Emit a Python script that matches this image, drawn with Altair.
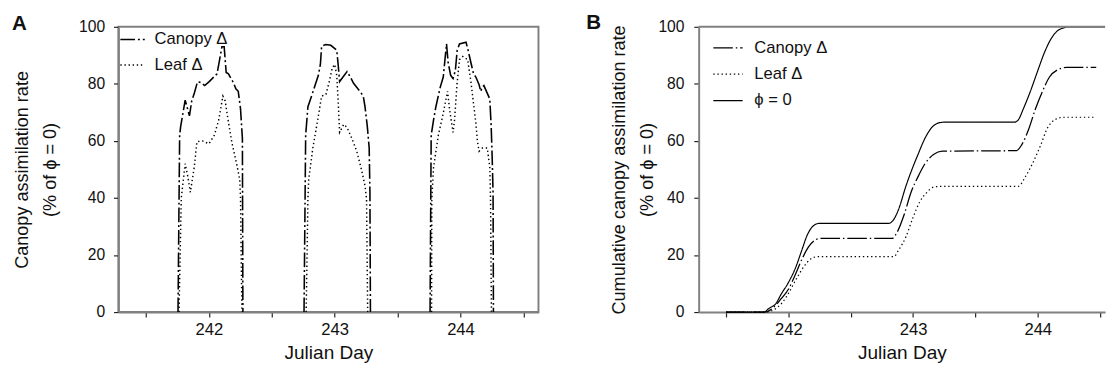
import altair as alt
import pandas as pd

FONT = "Liberation Sans"

# ---------------- Panel A data (rate, % of phi = 0) ----------------
can242_x = [241.754, 241.767, 241.775, 241.811, 241.845, 241.863, 241.884, 241.909, 241.935, 241.966, 242.0, 242.064, 242.085, 242.103, 242.121, 242.137, 242.155, 242.194, 242.214, 242.233, 242.251, 242.266, 242.27]
can242_y = [0, 62, 65, 74.3, 68.8, 74, 76.8, 80.7, 80.5, 79.4, 80.7, 83.5, 88.5, 93, 93, 84, 83.5, 80.5, 78.3, 77.4, 71.3, 60.8, 0]
can243_x = [242.756, 242.769, 242.787, 242.808, 242.870, 242.886, 242.896, 242.930, 242.969, 243.016, 243.026, 243.039, 243.098, 243.124, 243.150, 243.189, 243.227, 243.241, 243.259, 243.274, 243.280, 243.284]
can243_y = [0, 62, 72, 74.7, 83, 86.8, 93.2, 93.8, 93.5, 91.8, 87.4, 80.8, 84.3, 82.4, 80.2, 78, 75.8, 71.9, 65.2, 57.5, 42, 0]
can244_x = [243.758, 243.767, 243.786, 243.804, 243.837, 243.863, 243.889, 243.902, 243.922, 243.941, 243.959, 243.974, 243.992, 244.044, 244.057, 244.083, 244.104, 244.122, 244.148, 244.161, 244.174, 244.186, 244.233, 244.244, 244.252, 244.259, 244.262]
can244_y = [0, 62, 67.4, 71.9, 78.5, 82.4, 94, 87.4, 83, 81.9, 84.6, 91.8, 94, 94.6, 92.4, 87.4, 83.5, 82.4, 79.7, 77.4, 79, 79.4, 74.7, 65.2, 54.2, 42, 0]

leaf242_x = [241.762, 241.780, 241.811, 241.832, 241.852, 241.884, 241.904, 241.948, 242.0, 242.043, 242.078, 242.111, 242.129, 242.148, 242.181, 242.220, 242.245, 242.251, 242.262]
leaf242_y = [0, 40, 52, 47.5, 42, 51, 59.7, 60, 59, 62, 67.4, 75.7, 74, 68.5, 59.7, 52, 46.4, 40, 0]
leaf243_x = [242.773, 242.787, 242.793, 242.826, 242.865, 242.896, 242.930, 242.956, 242.981, 243.0, 243.016, 243.026, 243.039, 243.072, 243.098, 243.137, 243.175, 243.214, 243.241, 243.253, 243.262]
leaf243_y = [0, 39.8, 46.4, 57.5, 67.4, 75.7, 76.3, 80.7, 85.7, 86.8, 83, 75.2, 63, 65.8, 64.7, 60.8, 56.4, 49.7, 44.2, 39.8, 0]
leaf244_x = [243.770, 243.772, 243.786, 243.824, 243.863, 243.897, 243.914, 243.941, 243.953, 243.972, 243.992, 244.018, 244.057, 244.083, 244.104, 244.122, 244.135, 244.148, 244.174, 244.213, 244.233, 244.239, 244.246]
leaf244_y = [0, 39.8, 50.8, 62, 69.7, 77.4, 70.8, 63, 67.4, 79.7, 88.5, 89.6, 88.5, 80.7, 73, 66.4, 59.7, 56.4, 57.5, 57.5, 50.8, 39.8, 0]

# ---------------- Panel B data (cumulative, % of phi = 0) ----------------
cum_phi_x = [241.5, 241.803, 241.844, 241.9, 241.942, 241.998, 242.054, 242.109, 242.15, 242.192, 242.247, 242.803, 242.844, 242.886, 242.942, 242.998, 243.039, 243.094, 243.150, 243.205, 243.261, 243.816, 243.844, 243.885, 243.941, 243.996, 244.052, 244.107, 244.176, 244.26, 244.54]
cum_phi_y = [0, 0, 1.3, 3, 6.3, 10.2, 15.2, 21.9, 26.9, 29.9, 31.1, 31.1, 32.4, 36.3, 44.1, 50.8, 55.2, 60.8, 64.7, 66.3, 66.6, 66.6, 67.4, 71.3, 77.4, 84.1, 90.8, 95.8, 99.1, 100, 100]
cum_can_x = [241.5, 241.81, 241.872, 241.942, 242.0, 242.054, 242.109, 242.164, 242.22, 242.261, 242.83, 242.872, 242.928, 242.983, 243.039, 243.094, 243.164, 243.234, 243.83, 243.871, 243.927, 243.982, 244.038, 244.094, 244.163, 244.233, 244.469]
cum_can_y = [0, 0, 1.3, 4.7, 8, 13, 18.6, 23, 25.4, 25.8, 25.8, 28, 34.1, 41.9, 47.4, 51.9, 55.2, 56.4, 56.6, 58.6, 64.1, 71.3, 77.4, 82.4, 85, 85.8, 85.8]
cum_leaf_x = [241.5, 241.82, 241.9, 241.956, 242.011, 242.067, 242.122, 242.178, 242.233, 242.844, 242.886, 242.942, 242.998, 243.053, 243.109, 243.164, 243.234, 243.844, 243.9, 243.956, 244.024, 244.08, 244.136, 244.206, 244.469]
cum_leaf_y = [0, 0, 1.3, 3.6, 7.4, 11.9, 15.8, 18.6, 19.4, 19.4, 21.9, 26.3, 33, 38.6, 41.9, 43.8, 44.1, 44.1, 47.4, 51.9, 58.6, 64.7, 67.4, 68.3, 68.3]

series_a = ["Canopy Δ", "Leaf Δ"]
series_b = ["Canopy Δ", "Leaf Δ", "ϕ = 0"]
x_ticks = [241.5, 242, 242.5, 243, 243.5, 244, 244.5]
y_ticks = [0, 20, 40, 60, 80, 100]

def rows(xs, ys, series, seg):
    return [{"day": x, "val": y, "series": series, "seg": seg} for x, y in zip(xs, ys)]

recA = []
recA += rows(can242_x, can242_y, series_a[0], "c242")
recA += rows(can243_x, can243_y, series_a[0], "c243")
recA += rows(can244_x, can244_y, series_a[0], "c244")
recA += rows(leaf242_x, leaf242_y, series_a[1], "l242")
recA += rows(leaf243_x, leaf243_y, series_a[1], "l243")
recA += rows(leaf244_x, leaf244_y, series_a[1], "l244")
dfA = pd.DataFrame(recA).rename(columns={"series": "seriesA"})

recB = []
recB += rows(cum_can_x, cum_can_y, series_b[0], "c")
recB += rows(cum_leaf_x, cum_leaf_y, series_b[1], "l")
recB += rows(cum_phi_x, cum_phi_y, series_b[2], "p")
dfB = pd.DataFrame(recB).rename(columns={"series": "seriesB"})

DASH_CAN_A = [15, 3, 2, 3]
DASH_CAN_B = [20, 3, 1.5, 3]
DASH_LEAF = [1.4, 2.8]
SOLID = [1, 0]

label_expr = "datum.value % 1 == 0 ? format(datum.value, 'd') : ''"

def x_enc(domain):
    return alt.X("day:Q",
                 scale=alt.Scale(domain=domain, nice=False, zero=False),
                 axis=alt.Axis(values=x_ticks, labelExpr=label_expr, title="Julian Day"))

def y_enc(title, tpad, lpad):
    return alt.Y("val:Q", scale=alt.Scale(domain=[0, 100], nice=False),
                 axis=alt.Axis(values=y_ticks, title=title, titlePadding=tpad, labelPadding=lpad))

WA, WB, H = 430, 416, 292

legend_common = dict(orient="none", title=None, symbolType="stroke", symbolStrokeColor="black",
                     labelFontSize=17, labelFont=FONT, labelColor="#111")

linesA = alt.Chart(dfA).mark_line(color="black").encode(
    x=x_enc([241.28, 244.62]),
    y=y_enc(["Canopy assimilation rate", "(% of ϕ = 0)"], 20, 9),
    strokeDash=alt.StrokeDash("seriesA:N",
        scale=alt.Scale(domain=series_a, range=[DASH_CAN_A, DASH_LEAF]),
        legend=alt.Legend(legendX=1, legendY=1, symbolSize=625, symbolStrokeWidth=1.4,
                          labelOffset=9, clipHeight=24, rowPadding=2, **legend_common)),
    strokeWidth=alt.StrokeWidth("seriesA:N",
        scale=alt.Scale(domain=series_a, range=[1.6, 1.5]), legend=None),
    detail="seg:N",
)
letterA = alt.Chart(pd.DataFrame({"t": ["A"]})).mark_text(
    font=FONT, fontSize=21, fontWeight="bold", align="left", baseline="top", color="#111"
).encode(text="t:N", x=alt.value(-109), y=alt.value(-14))
chartA = alt.layer(linesA, letterA).properties(width=WA, height=H)

legB = dict(legendX=14, legendY=9, symbolSize=900, labelOffset=11, clipHeight=25, rowPadding=2,
            **legend_common)
linesB = alt.Chart(dfB).mark_line(color="black", interpolate="monotone").encode(
    x=x_enc([241.28, 244.54]),
    y=y_enc(["Cumulative canopy assimilation rate", "(% of ϕ = 0)"], 2, 10),
    strokeDash=alt.StrokeDash("seriesB:N",
        scale=alt.Scale(domain=series_b, range=[DASH_CAN_B, DASH_LEAF, SOLID]),
        legend=alt.Legend(**legB)),
    strokeWidth=alt.StrokeWidth("seriesB:N",
        scale=alt.Scale(domain=series_b, range=[1.3, 1.2, 2.2]),
        legend=alt.Legend(**legB)),
    detail="seg:N",
)
topB = alt.Chart(pd.DataFrame({"t": [0]})).mark_rule(color="#808080", strokeWidth=2).encode(
    x=alt.value(0), x2=alt.value(WB), y=alt.value(0))
letterB = alt.Chart(pd.DataFrame({"t": ["B"]})).mark_text(
    font=FONT, fontSize=21, fontWeight="bold", align="left", baseline="top", color="#111"
).encode(text="t:N", x=alt.value(-115), y=alt.value(-15))
chartB = alt.layer(linesB, topB, letterB).properties(width=WB, height=H, view=alt.ViewConfig(stroke=None))

chart = alt.hconcat(chartA, chartB, spacing=48).resolve_scale(
    strokeDash="independent", strokeWidth="independent", x="independent", y="independent"
).properties(
    padding={"left": 3, "top": 0, "right": 0, "bottom": 0}, background="white"
).configure_view(stroke="#808080", strokeWidth=2).configure_axis(
    grid=False, domainColor="#808080", domainWidth=2, tickColor="#222", tickWidth=1.2, tickSize=5,
    labelFont=FONT, labelColor="#111",
    titleFont=FONT, titleFontWeight="normal", titleColor="#111",
).configure_axisX(
    labelFontSize=17, labelPadding=5, titleFontSize=19.5, titlePadding=7
).configure_axisY(
    labelFontSize=16, titleFontSize=18.5, titleLineHeight=28
)

chart.save("out.html", embed_options={"renderer": "svg", "actions": False})
